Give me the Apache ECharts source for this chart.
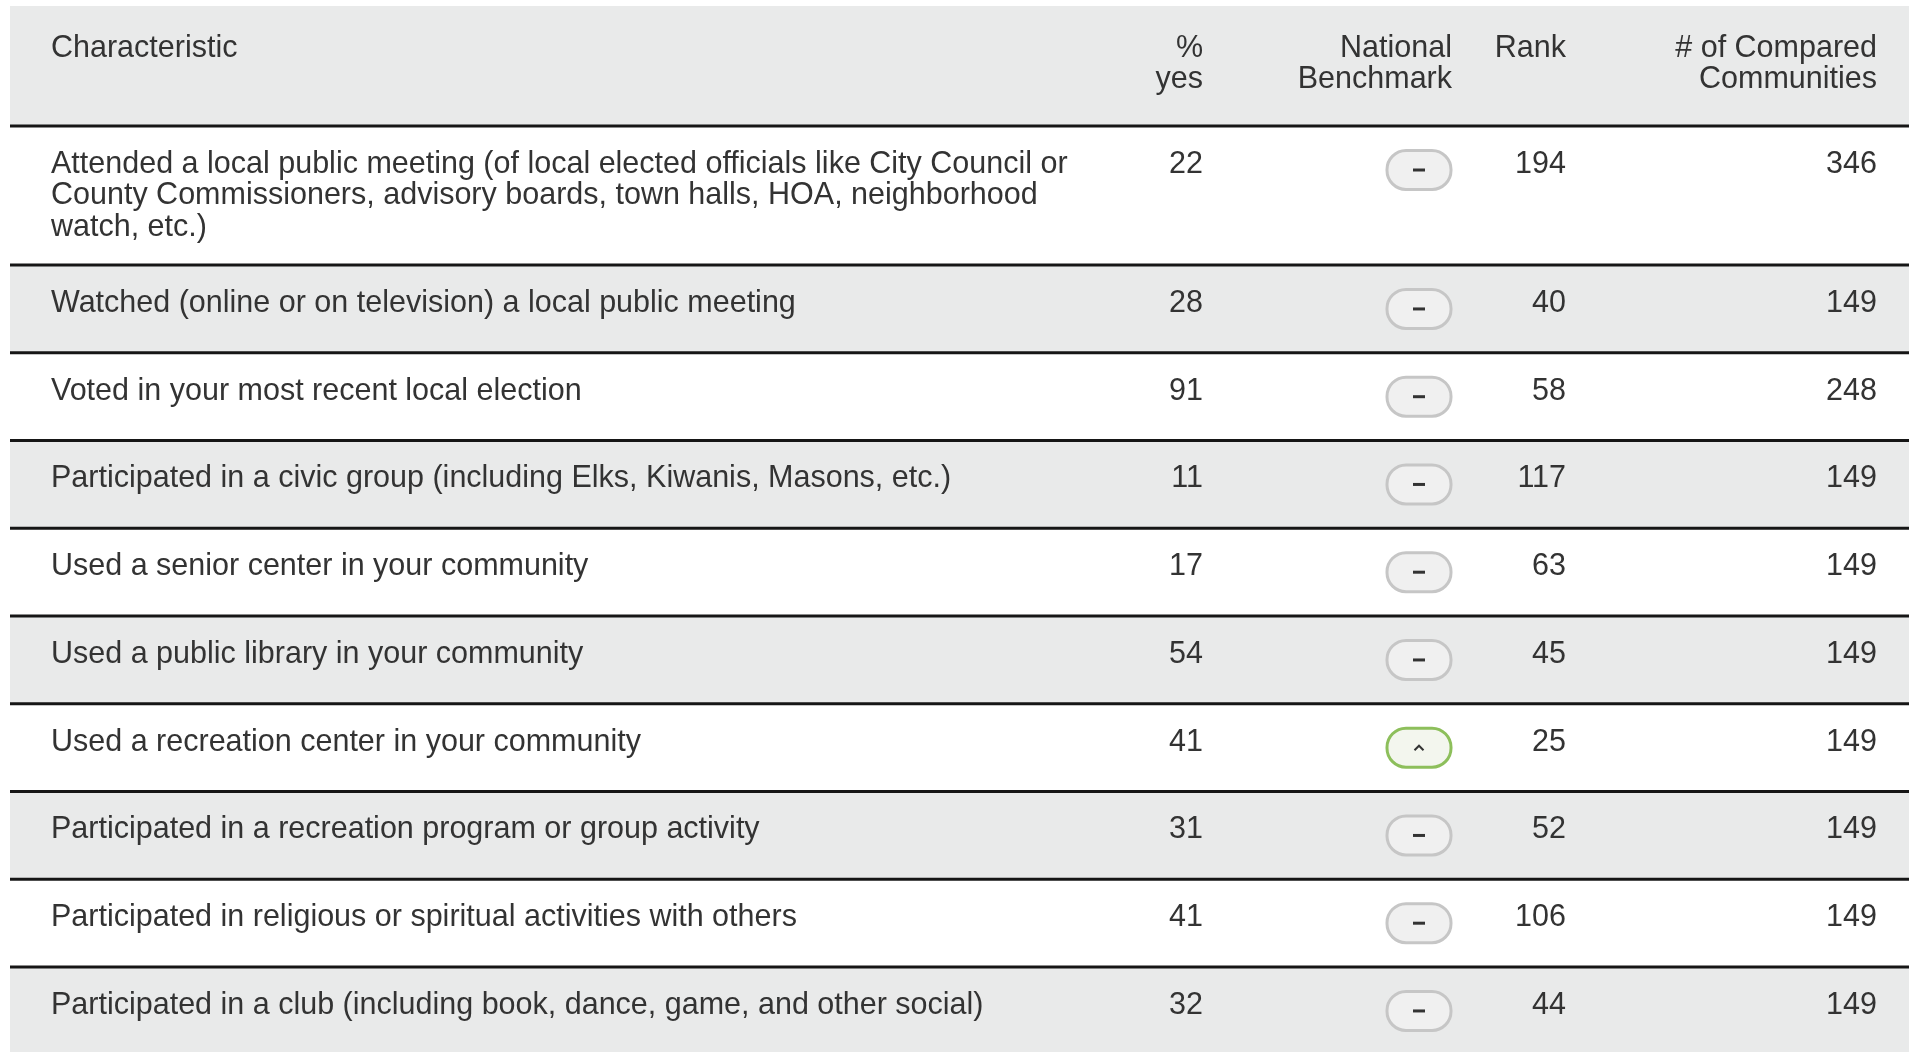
<!DOCTYPE html>
<html><head><meta charset="utf-8">
<script src="https://cdn.jsdelivr.net/npm/echarts@6/dist/echarts.min.js"></script>
<style>html,body{margin:0;padding:0;background:#fff;overflow:hidden}#c{width:1915px;height:1052px}</style>
</head><body><div id="c"></div>
<script>
// ---------------- data ----------------
const categories = [
  'Attended a local public meeting (of local elected officials like City Council or County Commissioners, advisory boards, town halls, HOA, neighborhood watch, etc.)',
  'Watched (online or on television) a local public meeting',
  'Voted in your most recent local election',
  'Participated in a civic group (including Elks, Kiwanis, Masons, etc.)',
  'Used a senior center in your community',
  'Used a public library in your community',
  'Used a recreation center in your community',
  'Participated in a recreation program or group activity',
  'Participated in religious or spiritual activities with others',
  'Participated in a club (including book, dance, game, and other social)'
];
const pctYes   = [22, 28, 91, 11, 17, 54, 41, 31, 41, 32];
const benchmark = ['similar','similar','similar','similar','similar','similar','higher','similar','similar','similar'];
const rank     = [194, 40, 58, 117, 63, 45, 25, 52, 106, 44];
const compared = [346, 149, 248, 149, 149, 149, 149, 149, 149, 149];
const headers  = ['Characteristic', '%\nyes', 'National\nBenchmark', 'Rank', '# of Compared\nCommunities'];

// ---------------- layout ----------------
const W = 1915, H = 1052;
const FONT_FAMILY = 'Liberation Sans';
const FONT_SIZE = 30.5, LINE_H = 31.5;
const TEXT_COLOR = '#333333';
const GRAY = '#e9eaea';
const LEFT = 10, RIGHT = 1909, TEXT_X = 51;
const LABEL_W = 1050;
const HEADER_TOP = 6, HEADER_BOTTOM = 126;
const BASE_ROW = 87.75, EXTRA_LINE = 25.6;
const TEXT_MID = 38.5, HEADER_MID = 48.5;
const COL = { pct: 1203, bench: 1452, rank: 1566, comp: 1877, pill: 1419 };

const mctx = document.createElement('canvas').getContext('2d');
mctx.font = FONT_SIZE + 'px "' + FONT_FAMILY + '"';
function wrap(text, w) {
  const words = text.split(' ');
  const lines = [];
  let cur = '';
  words.forEach(wd => {
    const t = cur ? cur + ' ' + wd : wd;
    if (cur && mctx.measureText(t).width > w) { lines.push(cur); cur = wd; }
    else cur = t;
  });
  if (cur) lines.push(cur);
  return lines;
}
const wrapped = categories.map(c => wrap(c, LABEL_W));
let acc = HEADER_BOTTOM;
const rowData = wrapped.map((ls, i) => {
  const h = BASE_ROW + (ls.length - 1) * EXTRA_LINE;
  const r = [i, acc, acc + h];
  acc += h;
  return r;
});

function txt(text, x, y, align) {
  return {
    type: 'text',
    style: {
      text: text, x: x, y: y,
      fill: TEXT_COLOR,
      fontSize: FONT_SIZE, fontFamily: FONT_FAMILY,
      lineHeight: LINE_H,
      align: align, textAlign: align,
      verticalAlign: 'top', textVerticalAlign: 'top'
    }
  };
}

function renderItem(params, api) {
  const i = api.value(0);
  const top = api.coord([0, api.value(1)])[1];
  const bottom = api.coord([0, api.value(2)])[1];
  const xl = api.coord([LEFT, 0])[0];
  const xr = api.coord([RIGHT, 0])[0];
  const children = [];
  children.push({ type: 'rect', shape: { x: xl, y: top, width: xr - xl, height: bottom - top },
    style: { fill: i % 2 === 1 ? GRAY : '#ffffff' } });
  const ty = top + TEXT_MID - LINE_H / 2;
  children.push(txt(wrapped[i].join('\n'), api.coord([TEXT_X, 0])[0], ty, 'left'));
  children.push(txt(String(pctYes[i]), api.coord([COL.pct, 0])[0], ty, 'right'));
  children.push(txt(String(rank[i]), api.coord([COL.rank, 0])[0], ty, 'right'));
  children.push(txt(String(compared[i]), api.coord([COL.comp, 0])[0], ty, 'right'));
  const cx = api.coord([COL.pill, 0])[0];
  const cy = top + 44;
  const higher = benchmark[i] === 'higher';
  children.push({ type: 'rect', shape: { x: cx - 32, y: cy - 19.5, width: 64, height: 39, r: 19 },
    style: { fill: higher ? '#f3f6ee' : '#f0f0f0', stroke: higher ? '#8dbf5b' : '#c6c6c6', lineWidth: 3 } });
  if (higher) {
    children.push({ type: 'polyline', shape: { points: [[cx - 4.5, cy + 2.5], [cx, cy - 2], [cx + 4.5, cy + 2.5]] },
      style: { stroke: '#333', lineWidth: 2, fill: null } });
  } else {
    children.push({ type: 'rect', shape: { x: cx - 6, y: cy - 1.5, width: 12, height: 3 }, style: { fill: '#333' } });
  }
  children.push({ type: 'rect', shape: { x: xl, y: top - 1.5, width: xr - xl, height: 3 }, style: { fill: '#161616' } });
  return { type: 'group', children: children };
}

const chart = echarts.init(document.getElementById('c'), null, { renderer: 'canvas' });
const headerEls = [
  { type: 'rect', left: LEFT, top: HEADER_TOP, shape: { width: RIGHT - LEFT, height: HEADER_BOTTOM - HEADER_TOP }, style: { fill: GRAY }, z: 0 }
];
const headerX = [TEXT_X, COL.pct, COL.bench, COL.rank, COL.comp];
headers.forEach((h, k) => {
  headerEls.push({
    type: 'text', z: 1,
    x: headerX[k], y: HEADER_MID - LINE_H / 2,
    style: {
      text: h, fill: TEXT_COLOR, fontSize: FONT_SIZE, fontFamily: FONT_FAMILY, lineHeight: LINE_H,
      textAlign: k === 0 ? 'left' : 'right', align: k === 0 ? 'left' : 'right', verticalAlign: 'top', textVerticalAlign: 'top'
    }
  });
});

chart.setOption({
  animation: false,
  backgroundColor: '#ffffff',
  graphic: headerEls,
  grid: { left: 0, right: 0, top: 0, bottom: 0 },
  xAxis: { type: 'value', min: 0, max: W, show: false },
  yAxis: { type: 'value', min: 0, max: H, inverse: true, show: false },
  series: [{
    type: 'custom',
    renderItem: renderItem,
    data: rowData,
    clip: true,
    encode: { x: -1, y: [1, 2] }
  }]
});
</script>
</body></html>
